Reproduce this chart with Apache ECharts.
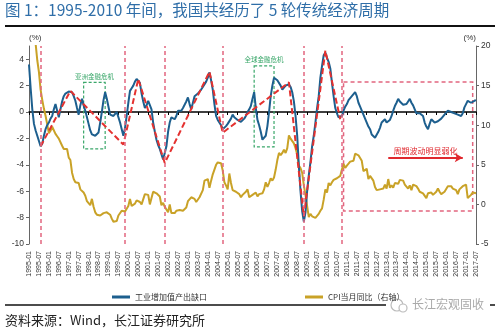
<!DOCTYPE html>
<html><head><meta charset="utf-8">
<script src="https://cdn.jsdelivr.net/npm/echarts@6/dist/echarts.min.js"></script>
<style>html,body{margin:0;padding:0;background:#fff}#c{width:500px;height:330px}</style>
</head><body><div id="c"></div>
<script>
// Monthly categories 1995-01 .. 2017-07
const months = [];
for (let y = 1995; y <= 2017; y++) {
  for (let m = 1; m <= 12; m++) {
    if (y === 2017 && m > 7) break;
    months.push(y + '-' + String(m).padStart(2, '0'));
  }
}

// 工业增加值产出缺口 (left axis, %)
const outputGap = [
  3.6, 1.8, 0.2, -0.9, -1.4, -1.8, -2.2, -2.6, -2.4, -1.8, -1.3, -1.0,
  -0.8, -0.5, -0.3, 0.2, 0.6, 0.1, -0.4, 0.2, 0.8, 1.2, 1.4, 1.5,
  1.55, 1.5, 1.5, 1.2, 0.85, 0.3, -0.2, 0.5, 1.0, 0.5, 0.1, -0.4,
  -0.9, -1.4, -1.7, -1.8, -1.8, -1.7, -1.55, -0.8, 0.0, 0.9, 1.5, 1.0,
  0.4, -0.2, -0.3, -0.3, -0.2, 0.0, -0.4, -0.8, -1.3, -1.8, -1.2, -0.3,
  0.7, 1.6, 1.8, 2.0, 2.3, 2.5, 2.4, 2.2, 1.4, 0.8, 0.3, 0.5,
  0.85, 1.0, 0.2, -0.8, -1.5, -2.1, -2.5, -2.8, -3.2, -3.6, -3.1, -2.6,
  -1.5, -0.8, -0.4, -0.3, -0.55, -0.3, 0.1, 0.0, 0.1, 0.3, 0.45, 0.8,
  1.1, 0.6, 0.2, 0.7, 1.2, 1.3, 1.4, 1.5, 1.7, 1.9, 2.0, 2.3,
  2.6, 3.0, 2.4, 1.7, 0.6, -0.3, -0.6, -0.7, -1.0, -1.3, -1.2, -1.07,
  -0.9, -0.8, -0.5, -0.2, -0.4, -0.55, -0.6, -0.7, -0.75, -0.8, -0.5, -0.3,
  0.0, 0.2, 0.45, 1.0, 1.5, 0.3, -0.6, -1.0, -1.5, -2.1, -2.2, -1.8,
  -1.07, 0.0, 1.2, 2.0, 2.6, 2.5, 2.4, 2.35, 2.0, 1.7, 1.8, 2.0,
  2.05, 2.1, 1.9, 1.5, 0.8, -0.3, -1.8, -4.1, -6.0, -7.5, -8.3, -7.6,
  -6.0, -4.8, -3.8, -2.6, -1.8, -0.8, 0.3, 1.2, 2.6, 3.5, 4.3, 4.5,
  4.1, 3.8, 3.3, 2.2, 1.2, 0.3, -0.1, -0.4, -0.5, -0.3, 0.1, 0.4,
  0.6, 0.9, 1.0, 1.2, 1.35, 1.5, 1.2, 0.7, 0.4, 0.1, -0.2, -0.5,
  -0.8, -1.1, -1.3, -1.7, -1.85, -1.95, -1.9, -1.5, -1.2, -0.8, -0.7, -0.55,
  -0.8, -0.95, -0.6, -0.3, 0.1, 0.45, 0.7, 1.0, 0.8, 0.7, 0.55, 0.45,
  0.6, 0.8, 1.0, 0.7, 0.5, 0.2, -0.1, -0.2, -0.1, 0.0, -0.3, -0.8,
  -1.1, -1.3, -0.9, -0.55, -0.7, -0.8, -0.75, -0.7, -0.7, -0.5, -0.35, -0.2,
  -0.05, 0.1, 0.05, 0.0, 0.0, -0.1, -0.2, -0.2, -0.25, -0.3, -0.1, 0.35,
  0.6, 0.85, 0.8, 0.7, 0.75, 0.85, 0.9
];

// CPI当月同比 (right axis, %)
const cpi = [
  24.1, 22.4, 21.3, 20.7, 20.3, 18.2, 16.7, 14.5, 13.2, 12.1, 11.2, 10.1,
  9.0, 9.3, 9.8, 9.7, 8.9, 8.6, 8.3, 8.1, 7.4, 7.0, 6.9, 7.0,
  5.9, 5.6, 4.0, 3.2, 2.8, 2.8, 2.7, 1.9, 1.8, 1.5, 1.1, 0.4,
  0.3, -0.1, 0.7, -0.3, -1.0, -1.3, -1.4, -1.4, -1.5, -1.1, -1.2, -1.0,
  -1.2, -1.3, -1.8, -2.2, -2.2, -2.1, -1.4, -1.3, -0.8, -0.6, -0.9, -1.0,
  -0.2, 0.7, -0.2, -0.3, 0.1, 0.5, 0.5, 0.3, 0.0, 0.0, 1.3, 1.5,
  1.2, 0.0, 0.8, 1.6, 1.7, 1.4, 1.5, 1.0, -0.1, 0.2, -0.3, -0.3,
  -1.0, 0.0, -1.1, -1.3, -1.1, -0.8, -0.9, -0.7, -0.7, -0.8, -0.7, -0.4,
  0.4, 0.2, 0.9, 1.0, 0.7, 0.3, 0.5, 0.9, 1.1, 1.8, 3.0, 3.2,
  3.2, 2.1, 3.0, 3.8, 4.4, 5.0, 5.3, 5.3, 5.2, 4.3, 2.8, 2.4,
  1.9, 3.9, 2.7, 1.8, 1.8, 1.6, 1.8, 1.3, 0.9, 1.2, 1.3, 1.6,
  1.9, 0.9, 0.8, 1.2, 1.4, 1.5, 1.0, 1.3, 1.5, 1.4, 1.9, 2.8,
  2.2, 2.7, 3.3, 3.0, 3.4, 4.4, 5.6, 6.5, 6.2, 6.5, 6.9, 6.5,
  7.1, 8.7, 8.3, 8.5, 7.7, 7.1, 6.3, 4.9, 4.6, 4.0, 2.4, 1.2,
  1.0, -1.6, -1.2, -1.5, -1.4, -1.7, -1.8, -1.2, -0.8, -0.5, 0.6, 1.9,
  1.5, 2.7, 2.4, 2.8, 3.1, 2.9, 3.3, 3.5, 3.6, 4.4, 5.1, 4.6,
  4.9, 4.9, 5.4, 5.3, 5.5, 6.4, 6.5, 6.2, 6.1, 5.5, 4.2, 4.1,
  4.5, 3.2, 3.6, 3.4, 3.0, 2.2, 1.8, 2.0, 1.9, 1.7, 2.0, 2.5,
  2.0, 3.2, 2.1, 2.4, 2.1, 2.7, 2.7, 2.6, 3.1, 3.2, 3.0, 2.5,
  2.5, 2.0, 2.4, 1.8, 2.5, 2.3, 2.3, 2.0, 1.6, 1.6, 1.4, 1.5,
  0.8, 1.4, 1.4, 1.5, 1.2, 1.4, 1.6, 2.0, 1.6, 1.3, 1.5, 1.6,
  1.8, 2.3, 2.3, 2.3, 2.0, 1.9, 1.8, 1.3, 1.9, 2.1, 2.3, 2.1,
  2.5, 0.8, 0.9, 1.2, 1.5, 1.5, 1.4
];

// Red dashed cycle trend line (peaks and troughs)
const trendMonths = ['1995-08', '1997-02', '1999-10', '2000-07', '2001-11', '2004-02', '2004-10', '2008-02', '2008-11', '2009-12', '2010-09'];
const trendValues = [-2.6, 1.6, -2.47, 2.5, -3.86, 3.05, -1.57, 2.25, -7.9, 4.65, -0.55];

// Vertical cycle-trough markers
const cycleMarks = ['1995-08', '1999-11', '2001-11', '2004-10', '2008-11', '2010-10'];

// Annotation boxes [startMonth, top, endMonth, bottom]
const asiaBox = ['1997-10', 2.24, '1998-11', -2.8];
const globalBox = ['2006-05', 3.5, '2007-05', -2.64];
const weakBox = ['2010-11', 2.27, '2017-05', -7.5];
const arrowSpan = ['2013-02', '2016-11', -3.46];

const nameGap = '工业增加值产出缺口';
const nameCpi = 'CPI当月同比（右轴）';

const FONT = '"Liberation Sans", Arial, "Noto Sans CJK SC", sans-serif';
const chart = echarts.init(document.getElementById('c'), null, {renderer: 'canvas'});

const option = {
  animation: false,
  backgroundColor: '#fff',
  textStyle: {fontFamily: FONT},
  graphic: [
    {type: 'text', left: 5, top: 2, style: {text: '图 1：1995-2010 年间，我国共经历了 5 轮传统经济周期', fill: '#2f6ea8', font: '15.5px "Noto Sans CJK SC", sans-serif'}},
    {type: 'line', shape: {x1: 5, y1: 26, x2: 495, y2: 26}, style: {stroke: '#111', lineWidth: 2}},
    {type: 'line', shape: {x1: 5, y1: 305, x2: 495, y2: 305}, style: {stroke: '#111', lineWidth: 1.5}},
    {type: 'rect', shape: {x: 386, y: 298, width: 104, height: 14}, style: {fill: '#fff'}},
    {type: 'circle', shape: {cx: 397, cy: 305, r: 6}, style: {fill: 'none', stroke: '#bbb', lineWidth: 1.2}},
    {type: 'circle', shape: {cx: 403, cy: 308, r: 4}, style: {fill: '#fff', stroke: '#bbb', lineWidth: 1.2}},
    {type: 'text', left: 412, top: 298, style: {text: '长江宏观固收', fill: '#aaa', font: '12px "Noto Sans CJK SC", sans-serif'}},
    {type: 'text', left: 5, top: 314, style: {text: '资料来源：Wind，长江证券研究所', fill: '#222', font: '13px "Noto Sans CJK SC", sans-serif'}}
  ],
  legend: {
    data: [nameGap, nameCpi],
    left: 107, top: 288,
    itemGap: 98, itemWidth: 18, itemHeight: 3, icon: 'rect',
    textStyle: {fontSize: 8, color: '#333', fontFamily: '"Noto Sans CJK SC", sans-serif'}
  },
  grid: {left: 29, right: 24, top: 46, bottom: 86},
  xAxis: [
    {
      type: 'category', data: months, boundaryGap: false, position: 'bottom',
      axisLine: {show: false, onZero: false}, axisTick: {show: false},
      axisLabel: {interval: 5, rotate: 90, fontSize: 7, color: '#333', margin: 7},
      splitLine: {show: false}
    },
    {
      type: 'category', data: months, boundaryGap: false, position: 'top',
      axisLine: {show: true, onZero: true, onZeroAxisIndex: 0, lineStyle: {color: '#000', width: 1.5}},
      axisTick: {show: true, interval: 5, length: 3, inside: true, lineStyle: {color: '#000'}},
      axisLabel: {show: false}, splitLine: {show: false}
    }
  ],
  yAxis: [
    {
      type: 'value', min: -10, max: 5, interval: 2, position: 'left',
      name: '(%)', nameLocation: 'end', nameGap: 4,
      nameTextStyle: {fontSize: 8, color: '#333', align: 'left'},
      axisLine: {show: true, lineStyle: {color: '#666'}},
      axisTick: {show: true, length: 3, lineStyle: {color: '#666'}},
      axisLabel: {fontSize: 8.5, color: '#333', margin: 5, showMaxLabel: false},
      splitLine: {show: false}
    },
    {
      type: 'value', min: -5, max: 20, interval: 5, position: 'right',
      name: '(%)', nameLocation: 'end', nameGap: 4,
      nameTextStyle: {fontSize: 8, color: '#333', align: 'right'},
      axisLine: {show: true, lineStyle: {color: '#666'}},
      axisTick: {show: true, length: 3, lineStyle: {color: '#666'}},
      axisLabel: {fontSize: 8.5, color: '#333', margin: 5},
      splitLine: {show: false}
    }
  ],
  series: [
    {
      name: nameCpi, type: 'line', xAxisIndex: 0, yAxisIndex: 1, data: cpi,
      showSymbol: false, clip: true,
      lineStyle: {color: '#c9a227', width: 2}, itemStyle: {color: '#c9a227'}
    },
    {
      name: nameGap, type: 'line', xAxisIndex: 0, yAxisIndex: 0, data: outputGap,
      showSymbol: false, clip: true, z: 3,
      lineStyle: {color: '#1d5f8e', width: 2}, itemStyle: {color: '#1d5f8e'},
      markLine: {
        silent: true, symbol: 'none', label: {show: false},
        lineStyle: {color: '#e2667f', type: [4, 3], width: 1.5},
        data: cycleMarks.map(m => ({xAxis: m}))
      },
      markArea: {
        silent: true,
        data: [
          [{xAxis: asiaBox[0], yAxis: asiaBox[1], name: '亚洲金融危机',
            itemStyle: {color: 'rgba(0,0,0,0)', borderColor: '#3aa76a', borderWidth: 1.2, borderType: [3, 2]},
            label: {show: true, position: 'top', distance: 2, color: '#3aa76a', fontSize: 6.5, fontFamily: '"Noto Sans CJK SC", sans-serif'}},
           {xAxis: asiaBox[2], yAxis: asiaBox[3]}],
          [{xAxis: globalBox[0], yAxis: globalBox[1], name: '全球金融危机',
            itemStyle: {color: 'rgba(0,0,0,0)', borderColor: '#3aa76a', borderWidth: 1.2, borderType: [3, 2]},
            label: {show: true, position: 'top', distance: 2, color: '#3aa76a', fontSize: 6.5, fontFamily: '"Noto Sans CJK SC", sans-serif'}},
           {xAxis: globalBox[2], yAxis: globalBox[3]}],
          [{xAxis: weakBox[0], yAxis: weakBox[1],
            itemStyle: {color: 'rgba(0,0,0,0)', borderColor: '#e2667f', borderWidth: 1.5, borderType: [4, 3]},
            label: {show: false}},
           {xAxis: weakBox[2], yAxis: weakBox[3]}]
        ]
      }
    },
    {
      name: 'trend', type: 'line', xAxisIndex: 0, yAxisIndex: 0,
      data: trendMonths.map((m, k) => [m, trendValues[k]]),
      showSymbol: false, z: 4,
      lineStyle: {color: '#e4312f', width: 2, type: [6, 3]}, itemStyle: {color: '#e4312f'},
      markLine: {
        silent: true, symbol: ['none', 'arrow'], symbolSize: [7, 8],
        lineStyle: {color: '#e0282e', width: 2, type: 'solid'},
        label: {show: true, position: 'insideMiddleTop', formatter: '周期波动明显弱化', color: '#e0282e', fontSize: 8, distance: 3, fontFamily: '"Noto Sans CJK SC", sans-serif'},
        data: [[{coord: [arrowSpan[0], arrowSpan[2]]}, {coord: [arrowSpan[1], arrowSpan[2]]}]]
      }
    }
  ]
};
chart.setOption(option);
</script>
</body></html>
